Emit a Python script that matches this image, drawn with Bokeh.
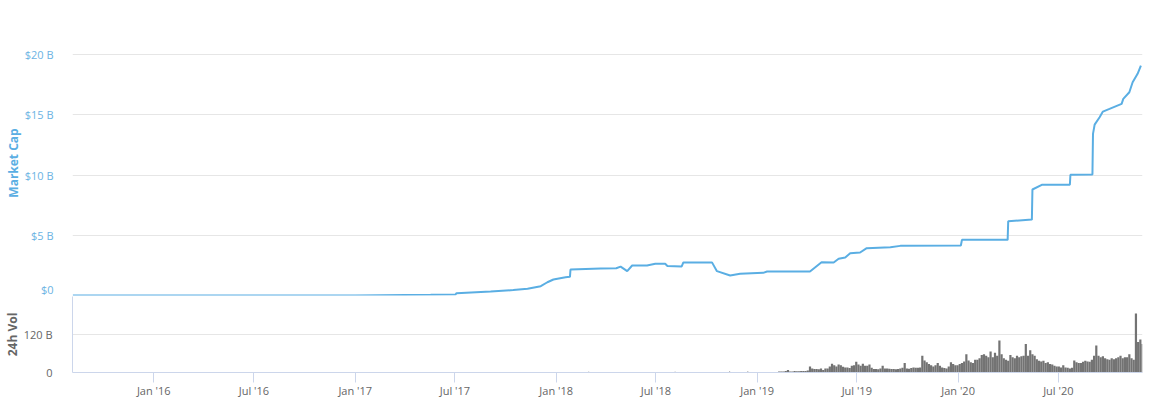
import pandas as pd
from bokeh.plotting import figure
from bokeh.layouts import column
from bokeh.models import Range1d, FixedTicker, CustomJSTickFormatter, DatetimeTickFormatter
from bokeh.embed import file_html
from bokeh.resources import INLINE

# ---- data (market cap in billions USD) ----
cap_dates = ["2015-08-07", "2016-01-01", "2016-07-01", "2017-01-01", "2017-05-18",
             "2017-07-02", "2017-07-04", "2017-09-04", "2017-10-15", "2017-11-10",
             "2017-12-04", "2017-12-16", "2017-12-27", "2018-01-18", "2018-01-26",
             "2018-01-27", "2018-03-23", "2018-04-20", "2018-04-28", "2018-05-10",
             "2018-05-19", "2018-06-15", "2018-06-30", "2018-07-18", "2018-07-22",
             "2018-08-17", "2018-08-20", "2018-10-11", "2018-10-20", "2018-11-13",
             "2018-12-01", "2019-01-12", "2019-01-19", "2019-04-07", "2019-04-28",
             "2019-05-20", "2019-05-29", "2019-06-10", "2019-06-19", "2019-07-07",
             "2019-07-19", "2019-08-31", "2019-09-18", "2020-01-06", "2020-01-08",
             "2020-03-31", "2020-04-01", "2020-05-14", "2020-05-15", "2020-06-01",
             "2020-07-22", "2020-07-23", "2020-09-01", "2020-09-02", "2020-09-05",
             "2020-09-14", "2020-09-20", "2020-10-02", "2020-10-24", "2020-10-27",
             "2020-11-07", "2020-11-13", "2020-11-22", "2020-11-28"]
cap_values = [0.0, 0.003, 0.008, 0.01, 0.06,
              0.08, 0.19, 0.33, 0.45, 0.56,
              0.77, 1.10, 1.33, 1.52, 1.55,
              2.16, 2.24, 2.26, 2.40, 2.02,
              2.49, 2.49, 2.63, 2.63, 2.45,
              2.41, 2.75, 2.75, 2.02, 1.66,
              1.80, 1.88, 1.99, 1.99, 2.76,
              2.74, 3.05, 3.15, 3.51, 3.57,
              3.93, 4.01, 4.12, 4.15, 4.62,
              4.62, 6.17, 6.30, 8.80, 9.19,
              9.19, 10.02, 10.05, 13.42, 14.19,
              14.80, 15.27, 15.49, 15.91, 16.32,
              16.87, 17.70, 18.40, 19.09]

# ---- 24h volume (billions USD), one value per 4 days from vol_start ----
vol_start = "2019-02-10"
vol_values = [3, 3, 3, 5, 8, 3, 3, 5, 4, 4, 5, 5, 5, 6, 19, 13, 11, 11, 10, 13,
              8, 13, 13, 19, 28, 23, 19, 25, 23, 18, 16, 16, 14, 21, 23, 34, 25, 21, 28, 21,
              21, 25, 15, 11, 11, 10, 13, 21, 13, 13, 12, 11, 11, 10, 11, 13, 15, 30, 13, 12,
              14, 16, 15, 15, 16, 53, 38, 32, 27, 23, 19, 23, 30, 21, 16, 14, 13, 19, 32, 27,
              23, 23, 27, 30, 35, 58, 38, 32, 30, 40, 40, 45, 55, 58, 53, 48, 66, 48, 62, 53,
              101, 58, 45, 40, 37, 55, 48, 45, 53, 48, 51, 53, 90, 53, 70, 58, 53, 42, 37, 35,
              37, 30, 32, 27, 25, 21, 19, 19, 16, 23, 16, 15, 13, 15, 38, 32, 30, 30, 34, 37,
              35, 34, 40, 53, 85, 53, 48, 51, 45, 42, 40, 45, 42, 45, 48, 53, 45, 48, 48, 58,
              45, 40, 186, 96, 104, 90]
pre_vol_dates = ["2018-01-20", "2018-03-01", "2018-04-25", "2018-06-20", "2018-08-05",
                 "2018-09-10", "2018-10-25", "2018-11-12", "2018-11-30", "2018-12-15",
                 "2019-01-05"]
pre_vol_values = [1, 2, 1, 1, 2, 1, 1, 3, 1, 3, 1]

tick_dates = ["2016-01-01", "2016-07-01", "2017-01-01", "2017-07-01", "2018-01-01",
              "2018-07-01", "2019-01-01", "2019-07-01", "2020-01-01", "2020-07-01"]
cap_ticks = [0, 5, 10, 15, 20]
vol_ticks = [0, 120]

# ---- styling ----
BLUE = "#5aaee3"
BLUE_TXT = "#6cb3e3"
GRAY_TXT = "#666666"
AXIS_C = "#ccd6eb"
GRID_C = "#e6e6e6"
FONT = "Open Sans"

x_range = Range1d(start=pd.Timestamp("2015-08-06 12:00"), end=pd.Timestamp("2020-11-30 22:00"))

p1 = figure(width=1145, height=296, x_axis_type="datetime", x_range=x_range,
            y_range=Range1d(0, 22), output_backend="svg", toolbar_location=None,
            min_border_left=71, min_border_right=3, min_border_top=30, min_border_bottom=1)
p1.outline_line_color = None
p1.xaxis.visible = False
p1.xgrid.visible = False
p1.ygrid.grid_line_color = GRID_C
p1.yaxis.ticker = FixedTicker(ticks=cap_ticks)
p1.yaxis.formatter = CustomJSTickFormatter(code="return tick == 0 ? '$0' : '$' + tick + ' B';")
p1.yaxis.axis_line_color = None
p1.yaxis.major_tick_line_color = None
p1.yaxis.minor_tick_line_color = None
p1.yaxis.major_label_standoff = 13
p1.yaxis.major_label_text_color = BLUE_TXT
p1.yaxis.major_label_text_font = FONT
p1.yaxis.major_label_text_font_size = "11px"
p1.yaxis.axis_label = "Market Cap"
p1.yaxis.axis_label_text_color = BLUE
p1.yaxis.axis_label_text_font = FONT
p1.yaxis.axis_label_text_font_size = "12px"
p1.yaxis.axis_label_text_font_style = "bold"
p1.yaxis.axis_label_standoff = 0

p1.line(x=pd.to_datetime(cap_dates), y=cap_values, line_color=BLUE, line_width=2)

p2 = figure(width=1145, height=104, x_axis_type="datetime", x_range=x_range,
            y_range=Range1d(0, 240), output_backend="svg", toolbar_location=None,
            min_border_left=71, min_border_right=3, min_border_top=0, min_border_bottom=28)
p2.outline_line_color = None
p2.xgrid.visible = False
p2.ygrid.grid_line_color = GRID_C
p2.yaxis.ticker = FixedTicker(ticks=vol_ticks)
p2.yaxis.formatter = CustomJSTickFormatter(code="return tick == 0 ? '0' : tick + ' B';")
p2.yaxis.axis_line_color = AXIS_C
p2.yaxis.major_tick_line_color = None
p2.yaxis.minor_tick_line_color = None
p2.yaxis.major_label_standoff = 14
p2.yaxis.major_label_text_color = GRAY_TXT
p2.yaxis.major_label_text_font = FONT
p2.yaxis.major_label_text_font_size = "11px"
p2.yaxis.axis_label = "24h Vol"
p2.yaxis.axis_label_text_color = GRAY_TXT
p2.yaxis.axis_label_text_font = FONT
p2.yaxis.axis_label_text_font_size = "12px"
p2.yaxis.axis_label_text_font_style = "bold"
p2.yaxis.axis_label_standoff = 0

p2.xaxis.ticker = FixedTicker(ticks=[pd.Timestamp(d).value // 10**6 for d in tick_dates])
fmt = "%b '%y"
p2.xaxis.formatter = DatetimeTickFormatter(days=fmt, months=fmt, years=fmt, hours=fmt,
                                           minutes=fmt, seconds=fmt, milliseconds=fmt,
                                           microseconds=fmt, hourmin=fmt, minsec=fmt)
p2.xaxis.axis_line_color = AXIS_C
p2.xaxis.major_tick_line_color = AXIS_C
p2.xaxis.major_tick_out = 10
p2.xaxis.major_tick_in = 0
p2.xaxis.minor_tick_line_color = None
p2.xaxis.major_label_standoff = 0
p2.xaxis.major_label_text_color = GRAY_TXT
p2.xaxis.major_label_text_font = FONT
p2.xaxis.major_label_text_font_size = "11px"

vol_dates = pd.date_range(vol_start, periods=len(vol_values), freq="4D")
day_ms = 86400000
p2.vbar(x=vol_dates, top=vol_values, width=4 * day_ms, fill_color="#737373",
        line_color=None)
p2.vbar(x=pd.to_datetime(pre_vol_dates), top=pre_vol_values, width=2 * day_ms,
        fill_color="#737373", line_color=None)

layout = column(p1, p2, spacing=0)
open("out.html", "w").write(file_html(layout, INLINE))
